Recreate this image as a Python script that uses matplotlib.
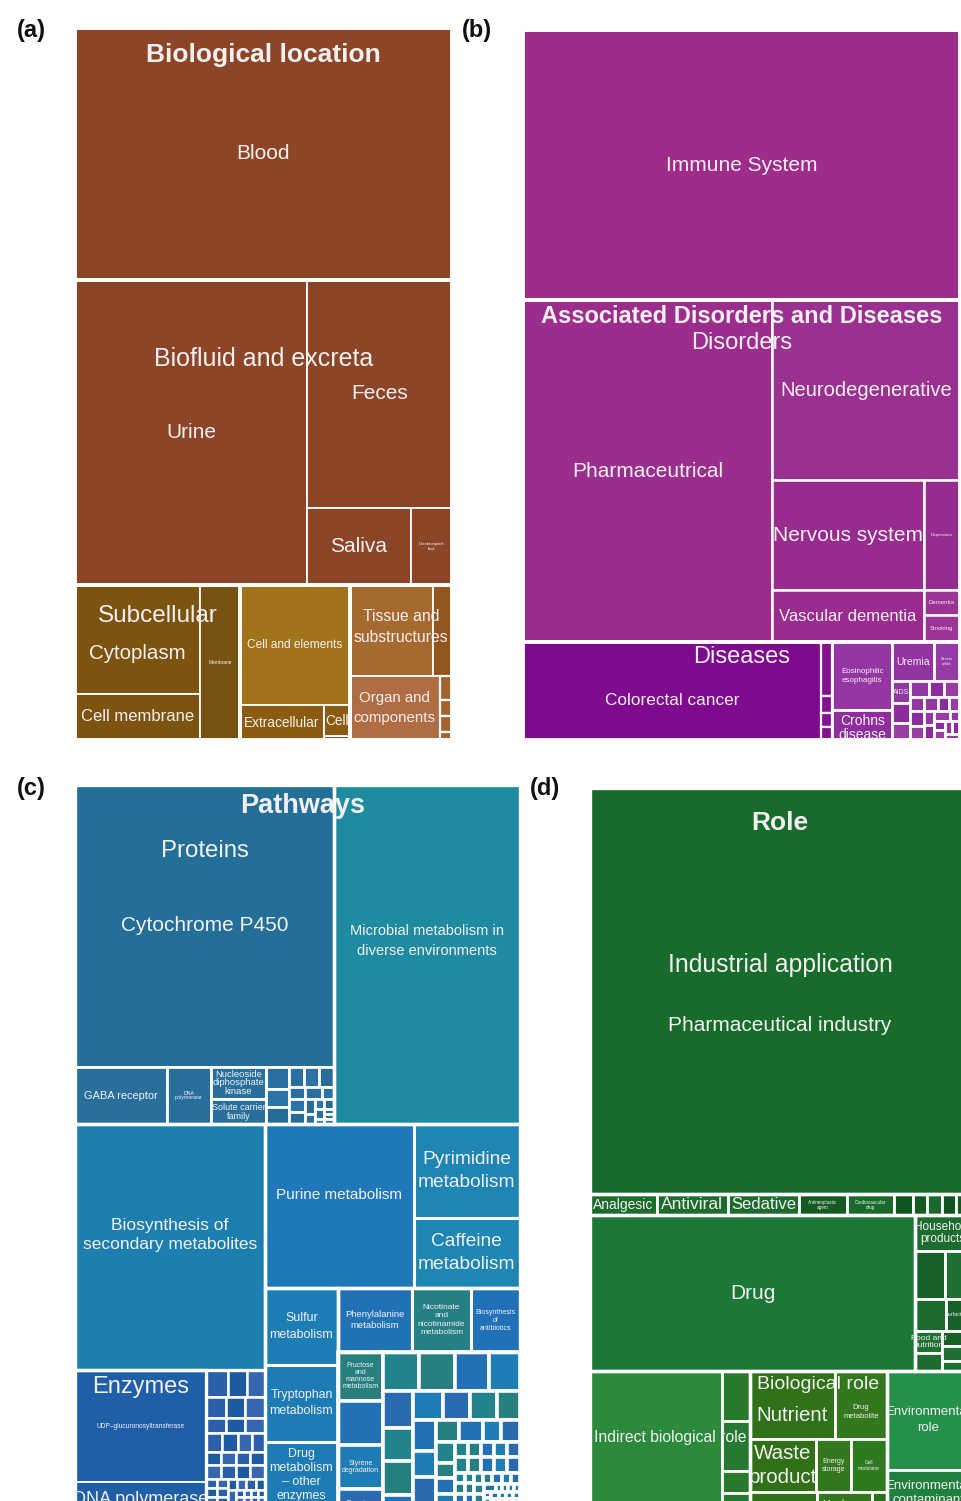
import matplotlib
matplotlib.use("Agg")
import matplotlib.pyplot as plt
from matplotlib.patches import Rectangle

plt.rcParams["font.family"] = ["Liberation Sans", "DejaVu Sans"]

FW, FH = 961, 1501
TXT = "#F4F0F2"

# (a) Biological location
blood_count = 950
biofluid_names = ["Urine", "Feces", "Saliva", "Cerebrospinal\nfluid"]
biofluid_counts = [708, 331, 80, 32]
subcell_names = ["Cytoplasm", "Cell membrane", "Membrane"]
subcell_counts = [136, 58, 62]
cellel_names = ["Cell and elements", "Extracellular", "Cell", ""]
cellel_counts = [132, 29, 8, 1]
tissue_names = ["Tissue and\nsubstructures", "", "Organ and\ncomponents"]
tissue_counts = [76, 17, 58]
tissue_minor = [3, 2, 2, 1]

# (b) Associated disorders and diseases
immune_count = 1180
disorder_names = ["Pharmaceutrical", "Neurodegenerative", "Nervous system", "Depression",
                  "Vascular dementia", "Dementia", "Smoking"]
disorder_counts = [852, 338, 167, 40, 79, 9, 10]
disease_names = ["Colorectal cancer", "Eosinophilic\nesophagitis", "Crohns\ndisease",
                 "Uremia", "Severe\ncolitis"]
disease_counts = [291, 41, 18, 16, 10]
disease_strip = [6, 2, 1.5, 1.5]
disease_minor = [4, 3.5, 3, 3, 2.5, 2.5, 2, 2, 2, 2, 1.5, 1.5, 1.5, 1.5, 1.5,
                 1, 1, 1, 1, 1, 1]
disease_minor_names = ["AIDS"]

# (c) Pathways
protein_names = ["Cytochrome P450", "GABA receptor", "DNA\npolymerase",
                 "Nucleoside\ndiphosphate\nkinase", "Solute carrier\nfamily"]
protein_counts = [730, 53, 25, 18, 14]
protein_minor = [5, 4, 4, 3, 3, 3, 2, 2, 2, 2, 1.5, 1.5, 1, 1, 1, 1, 0.5, 0.5, 0.5, 0.5]
microbial_count = 631
pathway_names = ["Biosynthesis of\nsecondary metabolites", "Purine metabolism",
                 "Pyrimidine\nmetabolism", "Caffeine\nmetabolism", "Sulfur\nmetabolism",
                 "Tryptophan\nmetabolism", "Drug\nmetabolism\n\u2013 other\nenzymes",
                 "Phenylalanine\nmetabolism", "Nicotinate\nand\nnicotinamide\nmetabolism",
                 "Biosynthesis\nof\nantibiotics"]
pathway_counts = [467, 244, 99, 75, 56, 56, 61, 47, 38, 31]
pathway_minor = [22, 20, 20, 16, 14, 14, 13, 12, 11, 10, 10, 9, 9, 8, 8, 7, 7, 6, 6,
                 5, 5, 5, 4, 4, 4, 3, 3, 3, 3] + [2] * 10 + [1] * 20 + [0.5] * 28
pathway_minor_names = ["Fructose\nand\nmannose\nmetabolism", "", "Styrene\ndegradation",
                       "Tyrosine\nmetabolism"]
enzyme_names = ["UDP\u2013glucuronosyltransferase", "DNA polymerase"]
enzyme_counts = [147, 56]
enzyme_minor = [6, 5, 5, 4, 4, 4, 3, 3, 3, 3, 3, 2.5, 2.5] + [2] * 8 + [1] * 15 + [0.5] * 24

# (d) Role
pharma_count = 1543
industry_names = ["Analgesic", "Antiviral", "Sedative"]
industry_counts = [14, 15, 15]
industry_minor = [10, 10, 4, 3, 3, 3, 2, 1]
industry_minor_names = ["Antineoplastic\nagent", "Cardiovascular\ndrug"]
drug_count = 507
drug_side = [20, 14, 12, 10, 8, 6, 5, 4, 3, 2, 2]
drug_side_names = ["Household\nproducts", "", "", "", "Surfactant", "Food and\nnutrition"]
indirect_count = 203
indirect_minor = [14, 14, 6, 4, 3, 2]
bio_names = ["Nutrient", "Drug\nmetabolite", "Waste\nproduct", "Energy\nstorage",
             "Cell\nmodulator", "Energy source", "Membrane\nstabilizer", ""]
bio_counts = [58, 35, 35, 19, 19, 22, 18, 5]
env_names = ["Environmental\nrole", "Environmental\ncontaminant"]
env_counts = [82, 46]


def split(rect, weights, across=True):
    x, y, w, h = rect
    total = float(sum(weights))
    out = []
    for wt in weights:
        if across:
            out.append((x, y, w * wt / total, h))
            x += w * wt / total
        else:
            out.append((x, y, w, h * wt / total))
            y += h * wt / total
    return out


def worst(row, side):
    s = sum(row)
    return max(max(side * side * r / (s * s), s * s / (side * side * r)) for r in row)


def squarify(rect, weights):
    x, y, w, h = rect
    total = float(sum(weights))
    areas = [v * w * h / total for v in weights]
    out = []
    i = 0
    while i < len(areas):
        side = min(w, h)
        row = [areas[i]]
        j = i + 1
        while j < len(areas) and worst(row + [areas[j]], side) <= worst(row, side):
            row.append(areas[j])
            j += 1
        thick = sum(row) / side
        pos = 0
        for a in row:
            ln = a / thick
            if w >= h:
                out.append((x, y + pos, thick, ln))
            else:
                out.append((x + pos, y, ln, thick))
            pos += ln
        if w >= h:
            x += thick
            w -= thick
        else:
            y += thick
            h -= thick
        i = j
    return out


def box(ax, r, color, lw=1.3):
    ax.add_patch(Rectangle((r[0], r[1]), r[2], r[3], facecolor=color,
                           edgecolor="white", linewidth=lw))


def outline(ax, r, lw=2.8):
    ax.add_patch(Rectangle((r[0], r[1]), r[2], r[3], fill=False,
                           edgecolor="white", linewidth=lw, zorder=3))


def tag(ax, r, text, size, fy=0.5, fx=0.5, bold=False, ls=1.15):
    if not text:
        return
    ax.text(r[0] + fx * r[2], r[1] + fy * r[3], text, ha="center", va="center",
            fontsize=size, color=TXT, fontweight="bold" if bold else "normal",
            linespacing=ls, zorder=5)


def cells(ax, rects, colors, names=(), size=4, lw=2.2):
    for k, r in enumerate(rects):
        box(ax, r, colors[k % len(colors)], lw=lw)
        if k < len(names):
            tag(ax, r, names[k], size, ls=1.0)


def panel(x, y, w, h):
    ax = fig.add_axes([x / FW, 1 - (y + h) / FH, w / FW, h / FH])
    ax.set_xlim(0, w)
    ax.set_ylim(h, 0)
    ax.axis("off")
    return ax, (0, 0, w, h)


fig = plt.figure(figsize=(FW / 100, FH / 100), dpi=100)

# ---------- (a) ----------
ax, full = panel(75, 28, 377, 712)
BROWN = "#8C4526"
low_total = sum(subcell_counts) + sum(cellel_counts) + sum(tissue_counts) + sum(tissue_minor)
r_blood, r_bio, r_low = split(full, [blood_count, sum(biofluid_counts), low_total], across=False)
box(ax, r_blood, BROWN)
tag(ax, r_blood, "Blood", 15)
r_urine, r_right = split(r_bio, [biofluid_counts[0], sum(biofluid_counts[1:])])
r_feces, r_row = split(r_right, [biofluid_counts[1], sum(biofluid_counts[2:])], across=False)
r_sal, r_csf = split(r_row, biofluid_counts[2:])
for r, name, size in [(r_urine, biofluid_names[0], 15), (r_feces, biofluid_names[1], 15),
                      (r_sal, biofluid_names[2], 15), (r_csf, biofluid_names[3], 3)]:
    box(ax, r, BROWN)
    tag(ax, r, name, size)

r_sub, r_cel, r_tis = split(r_low, [sum(subcell_counts), sum(cellel_counts),
                                    sum(tissue_counts) + sum(tissue_minor)])
r_scol, r_mem = split(r_sub, [sum(subcell_counts[:2]), subcell_counts[2]])
r_cyto, r_cmem = split(r_scol, subcell_counts[:2], across=False)
box(ax, r_cyto, "#7C5410")
tag(ax, r_cyto, subcell_names[0], 14.8, fy=0.63)
box(ax, r_cmem, "#7C5410")
tag(ax, r_cmem, subcell_names[1], 12)
box(ax, r_mem, "#785210")
tag(ax, r_mem, subcell_names[2], 3.5)

r_ce, r_cerow = split(r_cel, [cellel_counts[0], sum(cellel_counts[1:])], across=False)
r_ext, r_ccol = split(r_cerow, [cellel_counts[1], sum(cellel_counts[2:])])
r_cell, r_tiny = split(r_ccol, cellel_counts[2:], across=False)
box(ax, r_ce, "#A3731B")
tag(ax, r_ce, cellel_names[0], 8.6)
box(ax, r_ext, "#8C5B12")
tag(ax, r_ext, cellel_names[1], 9.8)
box(ax, r_cell, "#8C5B12")
tag(ax, r_cell, cellel_names[2], 9.8)
box(ax, r_tiny, "#4A3010", lw=1.0)

r_trow1, r_trow2 = split(r_tis, [sum(tissue_counts[:2]), tissue_counts[2] + sum(tissue_minor)],
                         across=False)
r_tsub, r_musc = split(r_trow1, tissue_counts[:2])
r_org, r_tmin = split(r_trow2, [tissue_counts[2], sum(tissue_minor)])
box(ax, r_tsub, "#A76A2E")
box(ax, r_musc, "#93561C")
box(ax, r_org, "#B06C42")
tag(ax, r_org, tissue_names[2], 10.8, ls=1.6)
cells(ax, split(r_tmin, tissue_minor, across=False), ["#A5622C"], lw=1.6)
tag(ax, r_tis, tissue_names[0], 11.3, fy=0.27, ls=1.5)

for r in (r_blood, r_bio, r_sub, r_cel, r_tis):
    outline(ax, r)
tag(ax, full, "Biological location", 19, fy=0.038, bold=True)
tag(ax, r_bio, "Biofluid and excreta", 18, fy=0.26)
tag(ax, r_sub, "Subcellular", 17.5, fy=0.2)

# ---------- (b) ----------
ax, full = panel(523, 30, 437, 710)
dis_total = sum(disease_counts) + sum(disease_strip) + sum(disease_minor)
r_imm, r_dis, r_dse = split(full, [immune_count, sum(disorder_counts), dis_total], across=False)
box(ax, r_imm, "#9D2C8A")
tag(ax, r_imm, "Immune System", 15)

r_pha, r_rc = split(r_dis, [disorder_counts[0], sum(disorder_counts[1:])])
r_neu, r_rest = split(r_rc, [disorder_counts[1], sum(disorder_counts[2:])], across=False)
r_row1, r_row2 = split(r_rest, [sum(disorder_counts[2:4]), sum(disorder_counts[4:])], across=False)
r_ner, r_dep = split(r_row1, disorder_counts[2:4])
r_vas, r_dcol = split(r_row2, [disorder_counts[4], sum(disorder_counts[5:])])
r_dem, r_smk = split(r_dcol, disorder_counts[5:], across=False)
for r, name, size, col in [(r_pha, disorder_names[0], 15, "#9B2D8C"),
                           (r_neu, disorder_names[1], 14.5, "#9A3090"),
                           (r_ner, disorder_names[2], 15, "#972C8E"),
                           (r_dep, disorder_names[3], 3.2, "#952C90"),
                           (r_vas, disorder_names[4], 12, "#992C8E"),
                           (r_dem, disorder_names[5], 4.3, "#9C3397"),
                           (r_smk, disorder_names[6], 4.3, "#9C3397")]:
    box(ax, r, col, lw=1.8)
    tag(ax, r, name, size)

r_cc, r_strip, r_drest = split(r_dse, [disease_counts[0], sum(disease_strip),
                                       sum(disease_counts[1:]) + sum(disease_minor)])
box(ax, r_cc, "#7E0A8E")
tag(ax, r_cc, disease_names[0], 12.4, fy=0.6)
cells(ax, split(r_strip, disease_strip, across=False), ["#84128F"], lw=1.6)
r_c1, r_c2 = split(r_drest, [sum(disease_counts[1:3]),
                             sum(disease_counts[3:]) + sum(disease_minor)])
r_eos, r_cro = split(r_c1, disease_counts[1:3], across=False)
box(ax, r_eos, "#9636A2", lw=2)
tag(ax, r_eos, disease_names[1], 5.8, ls=1.5)
box(ax, r_cro, "#8F2E9C", lw=2)
tag(ax, r_cro, disease_names[2], 10, fy=0.6, ls=0.95)
r_ctop, r_cmin = split(r_c2, [sum(disease_counts[3:]), sum(disease_minor)], across=False)
r_ure, r_sev = split(r_ctop, disease_counts[3:])
box(ax, r_ure, "#9333A2", lw=2)
tag(ax, r_ure, disease_names[3], 7.5)
box(ax, r_sev, "#963AA5", lw=2)
tag(ax, r_sev, disease_names[4], 2.8)
cells(ax, squarify(r_cmin, disease_minor), ["#9236A2", "#8A2C9C", "#9A3CA6"],
      disease_minor_names, size=5, lw=2.0)

for r in (r_imm, r_dis, r_dse):
    outline(ax, r)
tag(ax, full, "Associated Disorders and Diseases", 17, fy=0.403, bold=True)
tag(ax, r_dis, "Disorders", 17, fy=0.126)
tag(ax, r_dse, "Diseases", 17, fy=0.15)

# ---------- (c) ----------
ax, full = panel(75, 785, 445, 740)
prot_total = sum(protein_counts) + sum(protein_minor)
low_total = sum(pathway_counts) + sum(pathway_minor) + sum(enzyme_counts) + sum(enzyme_minor)
r_top, r_low = split(full, [prot_total + microbial_count, low_total], across=False)
r_prot, r_mic = split(r_top, [prot_total, microbial_count])
r_cyp, r_prow = split(r_prot, [protein_counts[0], prot_total - protein_counts[0]], across=False)
box(ax, r_cyp, "#246F98")
tag(ax, r_cyp, protein_names[0], 15)
r_gaba, r_dna, r_pcol, r_pmin = split(r_prow, [protein_counts[1], protein_counts[2],
                                               sum(protein_counts[3:]), sum(protein_minor)])
r_ndk, r_slc = split(r_pcol, protein_counts[3:], across=False)
for r, name, size in [(r_gaba, protein_names[1], 7.9), (r_dna, protein_names[2], 3.8),
                      (r_ndk, protein_names[3], 6.8), (r_slc, protein_names[4], 6.5)]:
    box(ax, r, "#286F9C", lw=2.0)
    tag(ax, r, name, size, ls=0.95)
cells(ax, squarify(r_pmin, protein_minor), ["#2B6EA0", "#2C74A6", "#276C98"], lw=2.0)
box(ax, r_mic, "#1F8BA0")
tag(ax, r_mic, "Microbial metabolism in\ndiverse environments", 10.5, fy=0.46, ls=1.55)

pv = pathway_counts
left_total = pv[0] + sum(enzyme_counts) + sum(enzyme_minor)
r_left, r_right = split(r_low, [left_total, low_total - left_total])
r_bsm, r_erow = split(r_left, [pv[0], left_total - pv[0]], across=False)
box(ax, r_bsm, "#1D7EB0")
tag(ax, r_bsm, pathway_names[0], 12.5, fy=0.45, ls=1.35)
r_enz, r_emin = split(r_erow, [sum(enzyme_counts), sum(enzyme_minor)])
r_udp, r_dnap = split(r_enz, enzyme_counts, across=False)
box(ax, r_udp, "#1E5FA8")
tag(ax, r_udp, enzyme_names[0], 4.8)
box(ax, r_dnap, "#1E5FA8")
tag(ax, r_dnap, enzyme_names[1], 13, fy=0.4)
cells(ax, squarify(r_emin, enzyme_minor), ["#2B5FA8", "#1E5AA0", "#3566AE"], lw=1.8)

r_prow1, r_prest = split(r_right, [sum(pv[1:4]), sum(pv[4:]) + sum(pathway_minor)], across=False)
r_pur, r_pcol2 = split(r_prow1, [pv[1], pv[2] + pv[3]])
r_pyr, r_caf = split(r_pcol2, pv[2:4], across=False)
box(ax, r_pur, "#1F78B7", lw=2.2)
tag(ax, r_pur, pathway_names[1], 11, fy=0.43)
box(ax, r_pyr, "#1E85B4", lw=2.2)
tag(ax, r_pyr, pathway_names[2], 13.8, ls=1.45)
box(ax, r_caf, "#1D86B3", lw=2.2)
tag(ax, r_caf, pathway_names[3], 13.8, ls=1.45)
r_scol, r_rem = split(r_prest, [sum(pv[4:7]), sum(pv[7:]) + sum(pathway_minor)])
r_sul, r_trp, r_drm = split(r_scol, pv[4:7], across=False)
box(ax, r_sul, "#1C7EB5", lw=2.2)
tag(ax, r_sul, pathway_names[4], 8.9, ls=1.5)
box(ax, r_trp, "#1D7CB5", lw=2.2)
tag(ax, r_trp, pathway_names[5], 8.9, ls=1.5)
box(ax, r_drm, "#1E7CB5", lw=2.2)
tag(ax, r_drm, pathway_names[6], 8.9, fy=0.4, ls=1.2)
r_prow2, r_pmin2 = split(r_rem, [sum(pv[7:]), sum(pathway_minor)], across=False)
r_phe, r_nic, r_abx = split(r_prow2, pv[7:])
box(ax, r_phe, "#2172B5", lw=2.2)
tag(ax, r_phe, pathway_names[7], 6.8, ls=1.3)
box(ax, r_nic, "#267F84", lw=2.2)
tag(ax, r_nic, pathway_names[8], 6, ls=1.3)
box(ax, r_abx, "#2171B8", lw=2.2)
tag(ax, r_abx, pathway_names[9], 5, ls=1.2)
cells(ax, squarify(r_pmin2, pathway_minor),
      ["#27807F", "#2271B5", "#1E7DB4", "#2A6BB0", "#23838C"], pathway_minor_names,
      size=5, lw=2.6)

for r in (r_prot, r_mic, r_bsm, r_enz, r_prow1, r_scol, r_prow2, r_pmin2):
    outline(ax, r, lw=2.4)
tag(ax, full, "Pathways", 19.5, fx=0.512, fy=0.028, bold=True)
tag(ax, r_prot, "Proteins", 17.3, fy=0.195)
tag(ax, r_enz, "Enzymes", 17, fy=0.11)

# ---------- (d) ----------
ax, full = panel(590, 788, 380, 737)
row_total = sum(industry_counts) + sum(industry_minor)
mid_total = drug_count + sum(drug_side)
bio_total = sum(bio_counts)
ind_total = indirect_count + sum(indirect_minor)
bot_total = ind_total + bio_total + sum(env_counts)
r_pharm, r_irow, r_mid, r_bot = split(full, [pharma_count, row_total, mid_total, bot_total],
                                      across=False)
box(ax, r_pharm, "#186C2B")
tag(ax, r_pharm, "Pharmaceutical industry", 15, fy=0.586)
row_rects = split(r_irow, industry_counts + industry_minor)
for k, (r, name) in enumerate(zip(row_rects[:3], industry_names)):
    box(ax, r, "#1B6C2D", lw=2.0)
    tag(ax, r, name, [10, 12.5, 12][k])
cells(ax, row_rects[3:], ["#145B22", "#1A6A2C", "#0F5520"], industry_minor_names, size=3.3,
      lw=2.0)

r_drug, r_side = split(r_mid, [drug_count, sum(drug_side)])
box(ax, r_drug, "#1B7935")
tag(ax, r_drug, "Drug", 15)
side_rects = squarify(r_side, drug_side)
cells(ax, side_rects, ["#1C6C30", "#17602A", "#207034"], lw=2.0)
for r, name, size in zip(side_rects, drug_side_names, [8.5, 0, 0, 0, 4, 6]):
    if name:
        tag(ax, r, name, size, ls=1.0)

r_indg, r_bio, r_env = split(r_bot, [ind_total, bio_total, sum(env_counts)])
r_ind, r_icol = split(r_indg, [indirect_count, sum(indirect_minor)])
box(ax, r_ind, "#2B8B3B")
cells(ax, split(r_icol, indirect_minor, across=False), ["#2A7A2B", "#247A30"], lw=2.0)
tag(ax, r_indg, "Indirect biological role", 11.3, fy=0.43)

b1, b2, b3 = split(r_bio, [sum(bio_counts[:2]), sum(bio_counts[2:5]), sum(bio_counts[5:])],
                   across=False)
bio_rects = split(b1, bio_counts[:2]) + split(b2, bio_counts[2:5]) + split(b3, bio_counts[5:])
bio_cols = ["#2F721A", "#33781D", "#2F7019", "#33781D", "#2E7A1E", "#2F7019", "#33781D",
            "#2A6E1A"]
bio_sizes = [14.8, 5.5, 14.8, 5, 3.5, 6.5, 6.5, 4]
bio_fy = [0.66, 0.6, 0.5, 0.5, 0.5, 0.5, 0.5, 0.5]
bio_ls = [1.0, 1.3, 1.35, 1.2, 1.1, 1.0, 1.1, 1.0]
for k, r in enumerate(bio_rects):
    box(ax, r, bio_cols[k], lw=2.0)
    tag(ax, r, bio_names[k], bio_sizes[k], fy=bio_fy[k], ls=bio_ls[k])

r_envr, r_envc = split(r_env, env_counts, across=False)
box(ax, r_envr, "#24904A", lw=2.0)
tag(ax, r_envr, env_names[0], 9.5, ls=1.45)
box(ax, r_envc, "#1F803F", lw=2.0)
tag(ax, r_envc, env_names[1], 9.5, fy=0.42, ls=1.3)

for r in (r_pharm, r_irow, r_drug, r_side, r_indg, r_bio, r_env):
    outline(ax, r, lw=2.4)
tag(ax, full, "Role", 19, fy=0.0475, bold=True)
tag(ax, r_pharm, "Industrial application", 17.8, fy=0.436)
tag(ax, r_bio, "Biological role", 14, fy=0.085)

# panel letters
for letter, px, py in [("(a)", 31, 30), ("(b)", 477, 30), ("(c)", 31, 788), ("(d)", 545, 788)]:
    fig.text(px / FW, 1 - py / FH, letter, ha="center", va="center", fontsize=17,
             fontweight="bold", color="#111111")

fig.savefig("out.png", dpi=100, facecolor="white")
